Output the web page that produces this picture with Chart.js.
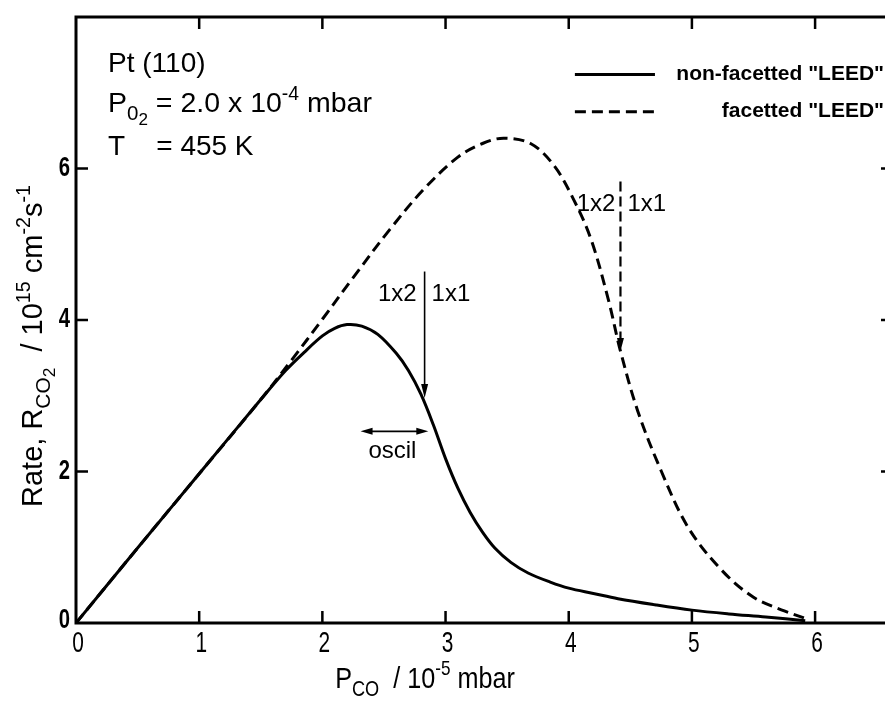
<!DOCTYPE html>
<html>
<head>
<meta charset="utf-8">
<script src="https://cdn.jsdelivr.net/npm/chart.js@4.4.1/dist/chart.umd.min.js"></script>
<style>
  html, body { margin: 0; padding: 0; background: #fff; overflow: hidden; }
  canvas { display: block; }
</style>
</head>
<body>
<canvas id="c" width="890" height="702"></canvas>
<script>
// Rate of CO2 formation on Pt(110) vs CO pressure, two LEED states.
const X_TICKS = [0, 1, 2, 3, 4, 5, 6];
const Y_TICKS = [0, 2, 4, 6];

// non-facetted "LEED" (solid)
const NONFAC_X = [0, 0.5, 1.0, 1.5, 1.7, 1.85, 2.0, 2.1, 2.2, 2.32, 2.45, 2.6, 2.7, 2.8, 2.9, 3.0, 3.1, 3.2, 3.3, 3.4, 3.53, 3.67, 3.85, 4.0, 4.2, 4.4, 4.7, 5.0, 5.3, 5.6, 5.92];
const NONFAC_Y = [0, 0.99, 1.97, 2.95, 3.33, 3.57, 3.79, 3.89, 3.94, 3.92, 3.81, 3.56, 3.33, 3.02, 2.62, 2.17, 1.78, 1.46, 1.20, 0.99, 0.80, 0.66, 0.54, 0.46, 0.39, 0.32, 0.24, 0.17, 0.12, 0.08, 0.03];

// facetted "LEED" (dashed)
const FAC_X = [0, 0.5, 1.0, 1.5, 1.75, 2.0, 2.25, 2.55, 2.82, 3.1, 3.3, 3.47, 3.69, 3.88, 4.04, 4.18, 4.32, 4.42, 4.56, 4.75, 4.97, 5.24, 5.5, 5.75, 5.94];
const FAC_Y = [0, 0.99, 1.97, 2.95, 3.47, 4.01, 4.56, 5.20, 5.72, 6.15, 6.33, 6.40, 6.33, 6.04, 5.59, 5.07, 4.28, 3.59, 2.80, 2.01, 1.26, 0.70, 0.34, 0.16, 0.05];

// transition markers (x, arrow top y, arrow tip y) in data units
const TRANS_SOLID = [2.83, 4.64, 2.97];
const TRANS_DASHED = [4.42, 5.83, 3.59];
// oscillation range (x from, x to, y)
const OSCIL = [2.31, 2.86, 2.53];

const SANS = '"Liberation Sans", Arial, sans-serif';

function toPts(xs, ys) { return xs.map((x, i) => ({ x, y: ys[i] })); }

// draw text made of normal / sub / sub2 / sup pieces
function richParts(ctx, parts, size, family, weight) {
  return parts.map(p => {
    let s = size, dy = 0;
    if (p.s === 'sub') { s = size * 0.72; dy = size * 0.28; }
    if (p.s === 'sub2') { s = size * 0.6; dy = size * 0.45; }
    if (p.s === 'sup') { s = size * 0.68; dy = -size * 0.42; }
    ctx.font = (weight || '') + ' ' + s + 'px ' + family;
    return { t: p.t, s, dy, w: ctx.measureText(p.t).width };
  });
}
function drawRich(ctx, parts, x, y, size, family, align, weight) {
  const ps = richParts(ctx, parts, size, family, weight);
  const total = ps.reduce((a, p) => a + p.w, 0);
  let cx = align === 'center' ? x - total / 2 : align === 'right' ? x - total : x;
  ctx.textAlign = 'left';
  ctx.textBaseline = 'alphabetic';
  ps.forEach(p => {
    ctx.font = (weight || '') + ' ' + p.s + 'px ' + family;
    ctx.fillText(p.t, cx, y + p.dy);
    cx += p.w;
  });
}

// narrow plotter-style text: squeeze horizontally
function narrowText(ctx, txt, x, y, sx) {
  ctx.save();
  ctx.translate(x, y);
  ctx.scale(sx, 1);
  ctx.fillText(txt, 0, 0);
  ctx.restore();
}

function arrowHead(ctx, x, y, dir, len, half) {
  ctx.beginPath();
  if (dir === 'down') { ctx.moveTo(x, y); ctx.lineTo(x - half, y - len); ctx.lineTo(x + half, y - len); }
  if (dir === 'left') { ctx.moveTo(x, y); ctx.lineTo(x + len, y - half); ctx.lineTo(x + len, y + half); }
  if (dir === 'right') { ctx.moveTo(x, y); ctx.lineTo(x - len, y - half); ctx.lineTo(x - len, y + half); }
  ctx.closePath();
  ctx.fill();
}

const decor = {
  id: 'decor',
  afterDraw(chart) {
    const ctx = chart.ctx;
    const xs = chart.scales.x, ys = chart.scales.y;
    const a = chart.chartArea;
    const X = v => xs.getPixelForValue(v), Y = v => ys.getPixelForValue(v);
    ctx.save();
    ctx.strokeStyle = '#000';
    ctx.fillStyle = '#000';
    ctx.setLineDash([]);

    // frame: left, bottom, top (right edge sits just off the page)
    ctx.lineWidth = 3;
    ctx.beginPath();
    ctx.moveTo(a.right, a.top); ctx.lineTo(a.left, a.top);
    ctx.lineTo(a.left, a.bottom); ctx.lineTo(a.right, a.bottom);
    ctx.lineTo(a.right, a.top);
    ctx.stroke();

    // inward ticks
    ctx.lineWidth = 2.5;
    const TL = 12;
    X_TICKS.forEach(v => {
      if (v === 0) return;
      ctx.beginPath();
      ctx.moveTo(X(v), a.bottom); ctx.lineTo(X(v), a.bottom - TL);
      ctx.moveTo(X(v), a.top); ctx.lineTo(X(v), a.top + TL);
      ctx.stroke();
    });
    Y_TICKS.forEach(v => {
      if (v === 0) return;
      ctx.beginPath();
      ctx.moveTo(a.left, Y(v)); ctx.lineTo(a.left + TL, Y(v));
      ctx.moveTo(a.right, Y(v)); ctx.lineTo(a.right - 8, Y(v));
      ctx.stroke();
    });

    // tick labels
    ctx.font = '29px ' + SANS;
    ctx.textAlign = 'center';
    ctx.textBaseline = 'top';
    X_TICKS.forEach(v => narrowText(ctx, String(v), X(v) + 2, a.bottom + 6, 0.72));
    ctx.font = 'bold 27px ' + SANS;
    ctx.textAlign = 'right';
    ctx.textBaseline = 'middle';
    Y_TICKS.forEach(v => narrowText(ctx, String(v), a.left - 6, Y(v) - (v === 0 ? 2 : 0), 0.75));

    // axis titles
    ctx.save();
    ctx.translate(425, 688);
    ctx.scale(0.84, 1);
    drawRich(ctx, [{ t: 'P' }, { t: 'CO', s: 'sub' }, { t: '  / 10' }, { t: '-5', s: 'sup' }, { t: ' mbar' }],
      0, 0, 30, SANS, 'center');
    ctx.restore();
    ctx.save();
    ctx.translate(42, 346);
    ctx.rotate(-Math.PI / 2);
    drawRich(ctx, [{ t: 'Rate, R' }, { t: 'CO', s: 'sub' }, { t: '2', s: 'sub2' }, { t: '  / 10' }, { t: '15', s: 'sup' },
      { t: ' cm' }, { t: '-2', s: 'sup' }, { t: 's' }, { t: '-1', s: 'sup' }], 0, 0, 29, SANS, 'center');
    ctx.restore();

    // conditions, top left
    drawRich(ctx, [{ t: 'Pt (110)' }], X(0.26), Y(7.28), 28, SANS, 'left');
    drawRich(ctx, [{ t: 'P' }, { t: '0', s: 'sub' }, { t: '2', s: 'sub2' }, { t: ' = 2.0 x 10' }, { t: '-4', s: 'sup' }, { t: ' mbar' }],
      X(0.26), Y(6.75), 28.5, SANS, 'left');
    drawRich(ctx, [{ t: 'T    = 455 K' }], X(0.26), Y(6.18), 28, SANS, 'left');

    // legend
    ctx.lineWidth = 3;
    ctx.beginPath(); ctx.moveTo(X(4.05), Y(7.24)); ctx.lineTo(X(4.7), Y(7.24)); ctx.stroke();
    ctx.setLineDash([11, 6]);
    ctx.beginPath(); ctx.moveTo(X(4.05), Y(6.75)); ctx.lineTo(X(4.7), Y(6.75)); ctx.stroke();
    ctx.setLineDash([]);
    ctx.font = 'bold 21px ' + SANS;
    ctx.textAlign = 'right';
    ctx.textBaseline = 'middle';
    ctx.fillText('non-facetted "LEED"', X(6.56), Y(7.24));
    ctx.fillText('facetted "LEED"', X(6.56), Y(6.75));

    // 1x2 | 1x1 transition, non-facetted
    ctx.lineWidth = 1.6;
    ctx.beginPath();
    ctx.moveTo(X(TRANS_SOLID[0]), Y(TRANS_SOLID[1]));
    ctx.lineTo(X(TRANS_SOLID[0]), Y(TRANS_SOLID[2]) - 10);
    ctx.stroke();
    arrowHead(ctx, X(TRANS_SOLID[0]), Y(TRANS_SOLID[2]), 'down', 14, 3.5);
    ctx.font = '24px ' + SANS;
    ctx.textBaseline = 'middle';
    ctx.textAlign = 'right';
    ctx.fillText('1x2', X(TRANS_SOLID[0]) - 8, Y(4.34));
    ctx.textAlign = 'left';
    ctx.fillText('1x1', X(TRANS_SOLID[0]) + 7, Y(4.34));

    // 1x2 | 1x1 transition, facetted
    ctx.lineWidth = 2.2;
    ctx.setLineDash([10, 5]);
    ctx.beginPath();
    ctx.moveTo(X(TRANS_DASHED[0]), Y(TRANS_DASHED[1]));
    ctx.lineTo(X(TRANS_DASHED[0]), Y(TRANS_DASHED[2]) - 10);
    ctx.stroke();
    ctx.setLineDash([]);
    arrowHead(ctx, X(TRANS_DASHED[0]), Y(TRANS_DASHED[2]), 'down', 13, 3.5);
    ctx.textAlign = 'right';
    ctx.fillText('1x2', X(TRANS_DASHED[0]) - 5, Y(5.53));
    ctx.textAlign = 'left';
    ctx.fillText('1x1', X(TRANS_DASHED[0]) + 7, Y(5.53));

    // oscillation range
    ctx.lineWidth = 1.6;
    const ox1 = X(OSCIL[0]), ox2 = X(OSCIL[1]), oy = Y(OSCIL[2]);
    ctx.beginPath(); ctx.moveTo(ox1 + 8, oy); ctx.lineTo(ox2 - 8, oy); ctx.stroke();
    arrowHead(ctx, ox1, oy, 'left', 12, 3.5);
    arrowHead(ctx, ox2, oy, 'right', 12, 3.5);
    ctx.textAlign = 'center';
    ctx.fillText('oscil', (ox1 + ox2) / 2 - 2, oy + 20);

    ctx.restore();
  }
};

new Chart(document.getElementById('c'), {
  type: 'line',
  data: {
    datasets: [
      {
        label: 'non-facetted "LEED"',
        data: toPts(NONFAC_X, NONFAC_Y),
        borderColor: '#000',
        borderWidth: 3,
        pointRadius: 0,
        tension: 0.35,
        fill: false,
      },
      {
        label: 'facetted "LEED"',
        data: toPts(FAC_X, FAC_Y),
        borderColor: '#000',
        borderWidth: 3,
        borderDash: [11, 6],
        pointRadius: 0,
        tension: 0.35,
        fill: false,
      },
    ],
  },
  options: {
    responsive: false,
    animation: false,
    events: [],
    layout: { padding: { left: 76, top: 17, right: 1, bottom: 79 } },
    plugins: { legend: { display: false }, tooltip: { enabled: false } },
    scales: {
      x: { type: 'linear', min: 0, max: 6.6, display: false },
      y: { type: 'linear', min: 0, max: 8, display: false },
    },
  },
  plugins: [decor],
});
</script>
</body>
</html>
